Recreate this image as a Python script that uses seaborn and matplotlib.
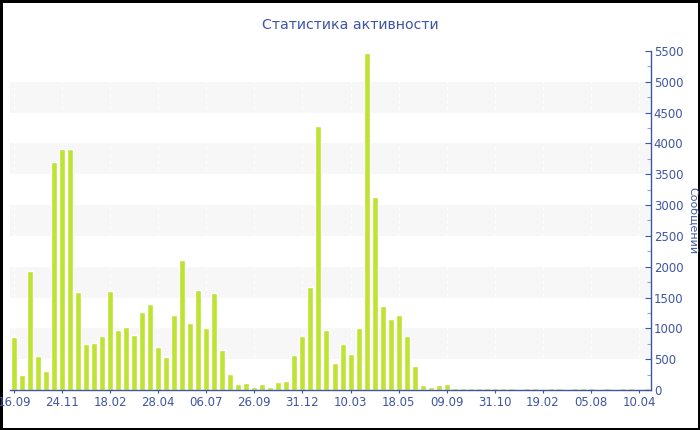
import pandas as pd
import matplotlib
matplotlib.use("Agg")
import matplotlib.pyplot as plt
from matplotlib.ticker import MultipleLocator
import seaborn as sns

# message counts per period
messages = [
    865, 243, 1936, 552, 314, 3704, 3905, 3905, 1585, 752,
    762, 881, 1606, 979, 1022, 892, 1260, 1395, 698, 541,
    1211, 2109, 1092, 1628, 1006, 1574, 649, 254, 100, 119,
    49, 92, 49, 124, 146, 568, 879, 1666, 4290, 976,
    430, 741, 589, 1008, 5462, 3126, 1363, 1157, 1211, 871,
    395, 86, 49, 76, 103, 38, 28, 32, 30, 30,
    28, 25, 32, 24, 27, 30, 22, 26, 28, 24,
    30, 25, 27, 23, 29, 24, 28, 26, 24, 31,
]
tick_labels = ['16.09', '24.11', '18.02', '28.04', '06.07', '26.09', '31.12',
               '10.03', '18.05', '09.09', '31.10', '19.02', '05.08', '10.04']
tick_step = 6

title = 'Статистика активности'
ylabel = 'Сообщений'

BAR = '#bfe332'
BLUE = '#3f55a3'


def main():
    df = pd.DataFrame({'idx': range(len(messages)), 'count': messages})

    sns.set_theme(style="white")
    plt.rcParams['font.family'] = ['DejaVu Sans']

    fig = plt.figure(figsize=(7, 4.3), dpi=100)
    ax = fig.add_axes([10 / 700, 1 - 390 / 430, 641 / 700, 339 / 430])

    # alternating light bands
    for lo in range(500, 5500, 1000):
        ax.axhspan(lo, lo + 500, color='#f7f7f7', zorder=0, lw=0)

    sns.barplot(data=df, x='idx', y='count', color=BAR, width=0.75,
                saturation=1, ax=ax, zorder=2)

    ax.set_xlim(-0.5, len(messages) - 0.5)
    ax.set_ylim(0, 5500)

    ticks = list(range(0, len(messages), tick_step))[:len(tick_labels)]
    ax.set_xticks(ticks)
    ax.set_xticklabels(tick_labels)
    for t in ticks:
        ax.axvline(t, color='white', lw=0.8, ls=(0, (3, 3)), zorder=1)

    ax.yaxis.tick_right()
    ax.yaxis.set_label_position('right')
    ax.yaxis.set_major_locator(MultipleLocator(500))
    ax.yaxis.set_minor_locator(MultipleLocator(250))
    ax.tick_params(axis='y', which='major', direction='in', length=4,
                   width=0.8, color=BLUE, labelcolor=BLUE, labelsize=8.5, pad=2,
                   right=True, left=False)
    ax.tick_params(axis='y', which='minor', direction='in', length=3,
                   width=0.8, color='#9aa4c8', right=True, left=False)
    ax.tick_params(axis='x', direction='inout', length=5, width=0.8,
                   color=BLUE, labelcolor=BLUE, labelsize=8.5, pad=2,
                   bottom=True)

    ax.set_xlabel('')
    ax.set_ylabel(ylabel, color=BLUE, fontsize=8, rotation=270, va='center')
    ax.yaxis.set_label_coords(1 + 42 / 641, 0.5)

    for side in ['top', 'left']:
        ax.spines[side].set_visible(False)
    for side in ['right', 'bottom']:
        ax.spines[side].set_color(BLUE)
        ax.spines[side].set_linewidth(1)

    fig.text(0.5, 1 - 25 / 430, title, ha='center', va='center',
             color=BLUE, fontsize=10.2)

    fig.patch.set_edgecolor('black')
    fig.patch.set_linewidth(2.5)

    fig.savefig('out.png', dpi=100, facecolor='white',
                edgecolor=fig.get_edgecolor())
    plt.close(fig)


if __name__ == "__main__":
    main()
